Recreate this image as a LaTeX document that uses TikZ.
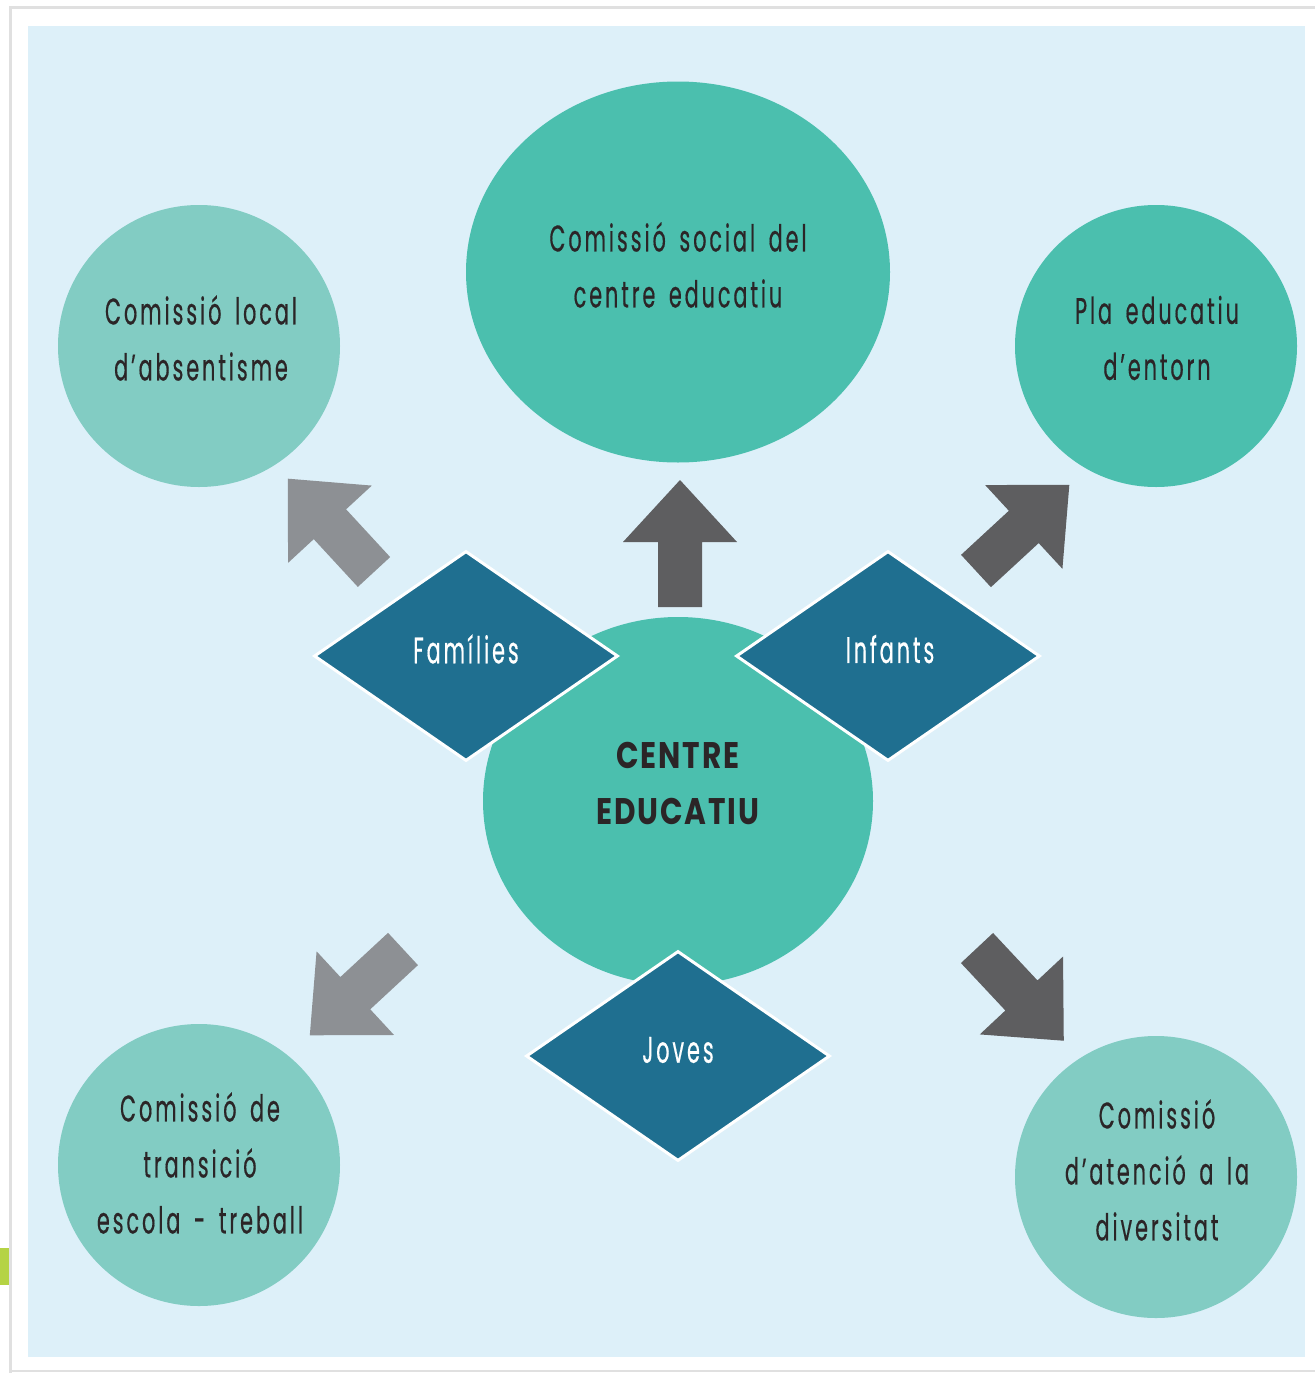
\documentclass[tikz,border=0pt]{standalone}
\usepackage{fontspec}
\usetikzlibrary{shapes.geometric}
\newfontfamily\lbl[FakeStretch=0.56,LetterSpace=8,WordSpace=1.6,FakeBold=0.4]{Poppins}
\newfontfamily\lblb[FakeStretch=0.8,LetterSpace=5,WordSpace=1.4]{Poppins Bold}
\definecolor{bgblue}{HTML}{DDF0F9}
\definecolor{tealD}{HTML}{4BBFAE}
\definecolor{tealL}{HTML}{82CCC3}
\definecolor{diam}{HTML}{1F6F90}
\definecolor{arrD}{HTML}{5E5E60}
\definecolor{arrL}{HTML}{8D9094}
\definecolor{txt}{HTML}{2B2527}
\definecolor{greenmark}{HTML}{B5D344}
\tikzset{
  lblfont/.style={font=\lbl\fontsize{37}{56}\selectfont},
  circ/.style={circle,inner sep=0pt,minimum size=282pt},
  bigell/.style={ellipse,inner sep=0pt},
  clabel/.style={text=txt,align=center,lblfont},
  diamondbox/.style={diamond,fill=diam,draw=white,line width=3pt,inner sep=0pt,
    minimum width=304pt,minimum height=210pt},
  dlabel/.style={text=white,lblfont},
  pics/blockarrow/.style={code={
    \fill (0,-22) -- (65,-22) -- (65,-57) -- (127,0) -- (65,57) -- (65,22) -- (0,22) -- cycle;
  }}
}
\begin{document}
\begin{tikzpicture}[x=1pt,y=-1pt]
\useasboundingbox (0,0) rectangle (1315,1373);
\fill[white] (0,0) rectangle (1315,1373);
\draw[black!12,line width=3pt] (10,1373) -- (10,7) -- (1315,7);
\draw[black!12,line width=2pt] (10,1371) -- (1315,1371);
\fill[greenmark] (0,1248) rectangle (9,1285);
\fill[bgblue] (28,26) rectangle (1305,1357);
% circles
\node[bigell,fill=tealD,minimum width=424pt,minimum height=381pt] (social) at (678,272) {};
\node[clabel] (sociallbl) at (678,265) {Comissió social del\\centre educatiu};
\node[circ,fill=tealL] (local) at (199,346) {};
\node[clabel] (locallbl) at (201,338) {Comissió local\\d’absentisme};
\node[circ,fill=tealD] (pla) at (1156,346) {};
\node[clabel] (plalbl) at (1157,338) {Pla educatiu\\d’entorn};
\node[circ,fill=tealL] (trans) at (199,1165) {};
\node[clabel] (translbl) at (200,1163) {Comissió de\\transició\\escola - treball};
\node[circ,fill=tealL] (div) at (1156,1177) {};
\node[clabel] (divlbl) at (1157,1170) {Comissió\\d’atenció a la\\diversitat};
\node[bigell,fill=tealD,minimum width=390pt,minimum height=368pt] (centre) at (678,801) {};
\node[text=txt,align=center,font=\lblb\fontsize{37}{56}\selectfont] (centrelbl) at (678,783) {CENTRE\\EDUCATIU};
% arrows
\pic[fill=arrL,rotate=132.7] (aul) at (374,572) {blockarrow};
\pic[fill=arrD,rotate=90] (aup) at (680,607) {blockarrow};
\pic[fill=arrD,rotate=42.7] (aur) at (976,571) {blockarrow};
\pic[fill=arrL,rotate=222.8] (adl) at (403,949) {blockarrow};
\pic[fill=arrD,rotate=313.1] (adr) at (977,948) {blockarrow};
% diamonds
\node[diamondbox] (fam) at (466,656) {};
\node[dlabel] (famlbl) at (466,649) {Famílies};
\node[diamondbox] (inf) at (888,656) {};
\node[dlabel] (inflbl) at (890,649) {Infants};
\node[diamondbox] (jov) at (678,1056) {};
\node[dlabel] (jovlbl) at (678,1050) {Joves};
\end{tikzpicture}
\end{document}
